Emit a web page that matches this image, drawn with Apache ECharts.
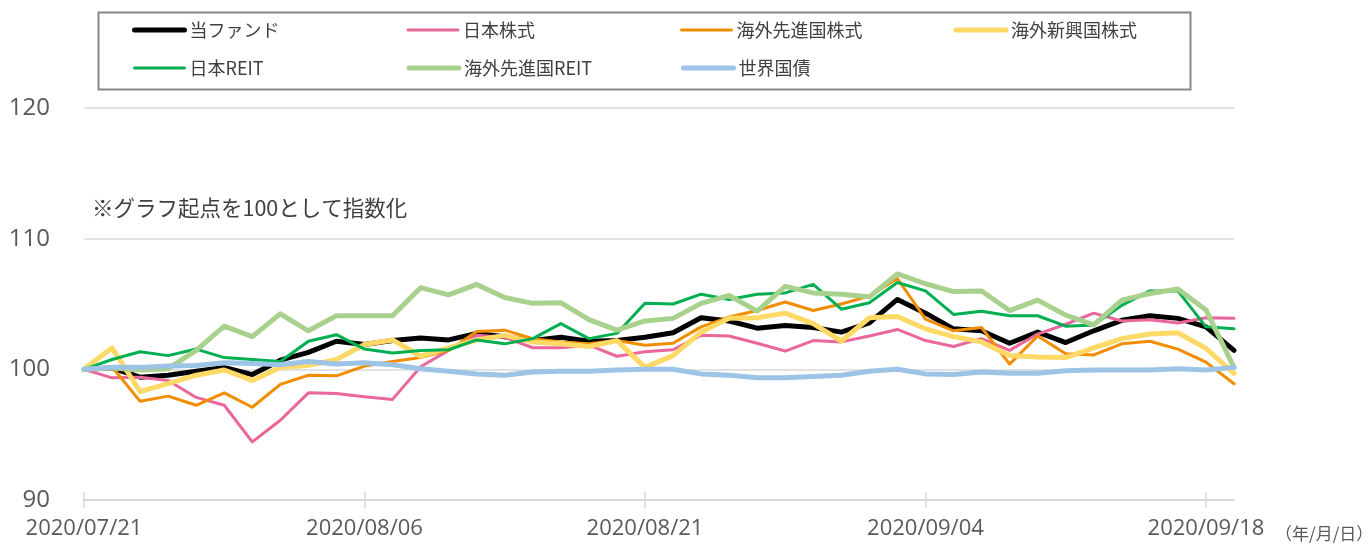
<!DOCTYPE html>
<html>
<head>
<meta charset="utf-8">
<script src="https://cdn.jsdelivr.net/npm/echarts@6/dist/echarts.min.js"></script>
<style>html,body{margin:0;padding:0;background:#fff;}#c{width:1370px;height:544px;}</style>
</head>
<body>
<div id="c"></div>
<script>
const dates = ['2020/07/21','2020/07/22','2020/07/27','2020/07/28','2020/07/29','2020/07/30','2020/07/31',
'2020/08/03','2020/08/04','2020/08/05','2020/08/06','2020/08/07','2020/08/11','2020/08/12','2020/08/13','2020/08/14',
'2020/08/17','2020/08/18','2020/08/19','2020/08/20','2020/08/21','2020/08/24','2020/08/25','2020/08/26','2020/08/27','2020/08/28',
'2020/08/31','2020/09/01','2020/09/02','2020/09/03','2020/09/04','2020/09/07','2020/09/08','2020/09/09','2020/09/10','2020/09/11',
'2020/09/14','2020/09/15','2020/09/16','2020/09/17','2020/09/18','2020/09/23'];

const seriesNames = ['当ファンド','日本株式','海外先進国株式','海外新興国株式','日本REIT','海外先進国REIT','世界国債'];

const fund = [100,100.1,99.4,99.55,99.85,100.15,99.6,100.7,101.3,102.15,101.9,102.2,102.4,102.25,102.75,102.5,102.2,102.45,102.15,102.2,102.45,102.8,103.95,103.7,103.15,103.35,103.2,102.85,103.55,105.35,104.3,103.1,102.95,102.0,102.85,102.05,102.95,103.75,104.1,103.9,103.25,101.45];
const jpStock = [100,99.35,99.4,99.15,97.85,97.25,94.45,96.1,98.2,98.15,97.9,97.7,100.2,101.45,102.6,102.45,101.65,101.65,101.85,101.0,101.35,101.5,102.6,102.55,102.0,101.4,102.2,102.1,102.55,103.05,102.2,101.75,102.35,101.45,102.7,103.45,104.3,103.7,103.8,103.55,103.95,103.9];
const dmStock = [100,100.2,97.55,97.95,97.25,98.2,97.1,98.85,99.55,99.5,100.25,100.6,100.9,101.45,102.9,103.0,102.35,102.1,101.95,102.2,101.85,102.0,103.25,104.0,104.5,105.15,104.5,105.0,105.6,106.95,103.85,102.95,103.2,100.4,102.55,101.2,101.1,101.95,102.15,101.55,100.55,98.9];
const emStock = [100,101.65,98.3,98.9,99.55,99.95,99.15,100.15,100.3,100.75,101.9,102.25,101.0,101.65,102.25,102.6,102.1,101.95,101.75,102.2,100.15,101.05,102.85,103.9,103.95,104.3,103.5,102.15,103.95,104.05,103.1,102.5,102.1,101.05,100.95,100.9,101.65,102.35,102.7,102.8,101.6,99.7];
const jpReit = [100,100.75,101.35,101.05,101.55,100.9,100.75,100.6,102.15,102.65,101.55,101.25,101.45,101.5,102.25,101.95,102.35,103.5,102.35,102.75,105.05,105.0,105.75,105.35,105.75,105.85,106.5,104.6,105.1,106.65,106.0,104.2,104.45,104.1,104.1,103.3,103.4,104.9,106.0,106.0,103.25,103.1];
const dmReit = [100,100.1,99.95,100.05,101.45,103.3,102.5,104.25,102.95,104.1,104.1,104.1,106.25,105.7,106.5,105.5,105.05,105.1,103.8,103.0,103.7,103.9,105.05,105.65,104.45,106.35,105.85,105.75,105.55,107.3,106.55,105.95,106.0,104.5,105.3,104.15,103.4,105.3,105.8,106.15,104.55,100.15];
const wgBond = [100,100.15,100.15,100.25,100.3,100.5,100.45,100.35,100.6,100.4,100.5,100.35,100.05,99.85,99.65,99.55,99.8,99.85,99.85,99.95,100.0,100.0,99.65,99.55,99.35,99.35,99.45,99.55,99.85,100.0,99.65,99.6,99.8,99.7,99.7,99.9,99.95,99.95,99.95,100.05,99.95,100.15];

const yTicks = [90,100,110,120];
const noteText = '※グラフ起点を100として指数化';
const unitText = '（年/月/日）';

const colors = ['#000000','#E9679B','#F18D00','#FFD966','#00B050','#A9D18E','#9DC3E6'];
const widths = [5,3,3,5,3,5,5];
const values = [fund,jpStock,dmStock,emStock,jpReit,dmReit,wgBond];

const chart = echarts.init(document.getElementById('c'), null, {renderer:'canvas'});
const showEvery10 = (i) => i % 10 === 0;

const option = {
  animation:false,
  backgroundColor:'#ffffff',
  grid:{left:84,right:136,top:108,bottom:44,containLabel:false},
  legend:{
    left:132, top:11, width:1150, padding:0, itemGap:0,
    itemWidth:50, itemHeight:14,
    itemStyle:{opacity:0},
    lineStyle:{width:'inherit',cap:'round'},
    textStyle:{fontFamily:'"Noto Sans CJK JP", sans-serif',fontSize:18,color:'#404040',width:217,lineHeight:38,padding:[0,0,0,0]},
    data:seriesNames.map((n,i)=>({name:n,lineStyle:{width:widths[i],cap:'round'}}))
  },
  xAxis:[{
    type:'category', data:dates, boundaryGap:false, position:'bottom',
    axisLine:{lineStyle:{color:'#D9D9D9',width:2}},
    axisTick:{show:true,interval:showEvery10,length:8,lineStyle:{color:'#D9D9D9',width:1.5}},
    axisLabel:{interval:showEvery10,margin:18,fontFamily:'"Open Sans", sans-serif',fontSize:22,color:'#595959'},
    splitLine:{show:false}
  },{
    type:'category', data:dates, boundaryGap:false, position:'bottom',
    axisLine:{show:false},
    axisTick:{show:true,inside:true,interval:showEvery10,length:8,lineStyle:{color:'#D9D9D9',width:1.5}},
    axisLabel:{show:false},
    splitLine:{show:false}
  }],
  yAxis:{
    type:'value', min:yTicks[0], max:yTicks[yTicks.length-1], interval:10,
    axisLine:{show:false}, axisTick:{show:false},
    axisLabel:{margin:34,fontFamily:'"Open Sans", sans-serif',fontSize:24,color:'#595959'},
    splitLine:{lineStyle:{color:'#D9D9D9',width:1.5}}
  },
  graphic:[
    {type:'rect',left:96,top:10,shape:{width:1092,height:77},style:{fill:'none',stroke:'#888888',lineWidth:2},silent:true},
    {type:'text',left:92,top:197,style:{text:noteText,font:'21.5px "Noto Sans CJK JP", sans-serif',fill:'#404040'}},
    {type:'text',left:1275,top:525,style:{text:unitText,font:'17px "Noto Sans CJK JP", sans-serif',fill:'#595959'}}
  ],
  series:seriesNames.map((n,i)=>({
    name:n, type:'line', data:values[i], xAxisIndex:0,
    symbol:'none', showSymbol:false,
    lineStyle:{color:colors[i],width:widths[i],cap:'round',join:'round'},
    itemStyle:{color:colors[i]},
    emphasis:{disabled:true}
  }))
};
chart.setOption(option);
</script>
</body>
</html>
